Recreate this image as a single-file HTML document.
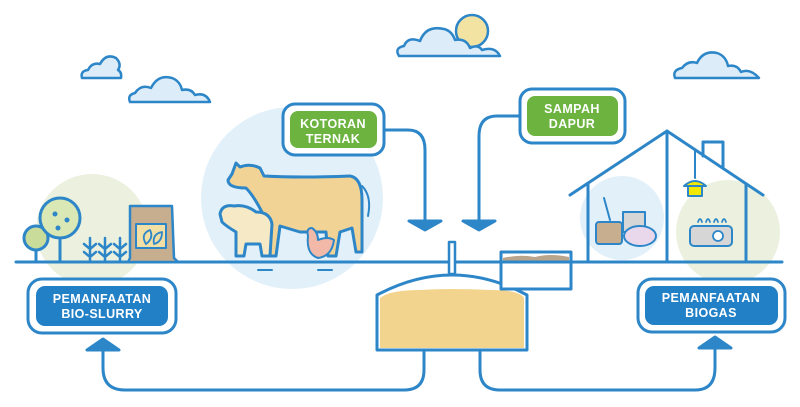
<!DOCTYPE html>
<html><head><meta charset="utf-8"><style>
html,body{margin:0;padding:0;background:#fff;}
svg{display:block}
text{font-family:"Liberation Sans",sans-serif;font-weight:bold;fill:#fff;font-size:12.5px;text-anchor:middle;letter-spacing:0.4px}
</style></head><body>
<svg width="800" height="407" viewBox="0 0 800 407" xmlns="http://www.w3.org/2000/svg">
<g fill="none" stroke="#2d86c8" stroke-width="3" stroke-linejoin="round" stroke-linecap="round">
<!-- backgrounds -->
<circle cx="92" cy="230" r="56" fill="#ebf1de" stroke="none"/>
<circle cx="292" cy="198" r="91" fill="#e2f0fa" stroke="none"/>
<circle cx="622" cy="218" r="42" fill="#e2f0fa" stroke="none"/>
<circle cx="728" cy="232" r="52" fill="#ebf1de" stroke="none"/>

<!-- clouds -->
<circle cx="472" cy="31" r="16" fill="#f3e3a2" stroke-width="2.5"/>
<path d="M399 56 Q394 48 404 46 Q408 36 420 41 Q426 25 444 29 Q452 31 455 40 Q466 38 470 48 Q478 44 482 50 Q495 46 500 56 Z" fill="#dcecf8" stroke-width="2.5"/>
<path d="M675 78 Q672 70 682 68 Q688 60 697 63 Q703 50 717 53 Q726 56 728 66 Q737 64 741 72 Q750 68 759 78 Z" fill="#dcecf8" stroke-width="2.5"/>
<path d="M82 78 Q80 71 88 70 Q92 62 100 64 Q106 53 116 58 Q122 64 118 70 Q122 72 121 78 Z" fill="#dcecf8" stroke-width="2.5"/>
<path d="M130 102 Q127 95 135 93 Q141 84 151 88 Q158 74 172 78 Q180 81 182 90 Q191 88 195 95 Q206 92 210 102 Z" fill="#dcecf8" stroke-width="2.5"/>

<!-- ground -->
<line x1="16" y1="262" x2="782" y2="262"/>

<!-- trees -->
<circle cx="36" cy="238" r="12" fill="#c9dc9a"/>
<path d="M60 262 V230" />
<circle cx="60" cy="218" r="20" fill="#d9e8b4"/>
<g fill="#2d86c8" stroke="none"><circle cx="55" cy="214" r="2.5"/><circle cx="67" cy="220" r="2.5"/><circle cx="58" cy="228" r="2.5"/></g>
<path d="M36 262 V250"/>
<g stroke-width="2.5"><path d="M90 262V238 M84 244l6 5 6-5 M84 252l6 5 6-5"/><path d="M105 262V238 M99 244l6 5 6-5 M99 252l6 5 6-5"/><path d="M120 262V238 M114 244l6 5 6-5 M114 252l6 5 6-5"/></g>
<!-- bag -->
<path d="M130 206 H172 L174 258 L178 262 H128 L130 258 Z" fill="#c6ae8f" stroke-width="2.5"/>
<rect x="136" y="224" width="30" height="24" fill="#f2dfa6" stroke-width="2"/>
<path d="M146 244 q-6-10 4-14 q4 8-4 14 M154 244 q-2-10 8-12 q0 10-8 12" stroke-width="1.8"/>

<!-- animals -->
<path d="M232 174 L236 163 L240 167 Q250 163 260 168 L264 176 Q300 178 350 176 Q362 178 362 200 L362 252 L356 252 L352 228 L340 232 L336 256 L328 256 L326 232 L300 232 L280 226 L276 256 L268 256 L264 216 Q254 196 246 188 Q228 188 228 180 Z" fill="#f2d396"/>
<path d="M362 186 Q372 196 368 216" stroke-width="2"/>
<path d="M220 214 Q222 204 234 206 Q246 204 256 212 Q270 212 272 224 L270 256 L262 256 L260 244 L246 244 L244 256 L236 256 L236 232 Q226 226 222 222 Z" fill="#f6e9c6"/>
<path d="M308 236 Q306 228 312 228 Q318 232 318 240 Q328 236 334 240 Q332 256 318 258 Q306 254 308 236 Z" fill="#f3b9a8" stroke-width="2"/>
<path d="M258 270 H272 M318 270 H332" stroke-width="2"/>

<!-- KOTORAN TERNAK -->
<rect x="283" y="104" width="101" height="51" rx="12" fill="#fff"/>
<rect x="290" y="111" width="87" height="37" rx="8" fill="#6cb33f" stroke="none"/>
<path d="M384 130 H408 Q425 130 425 150 V222"/>
<path d="M409 221 H441 L425 230 Z" fill="#2d86c8"/>

<!-- SAMPAH DAPUR -->
<rect x="520" y="89" width="105" height="54" rx="12" fill="#fff"/>
<rect x="527" y="96" width="91" height="40" rx="8" fill="#6cb33f" stroke="none"/>
<path d="M520 116 H497 Q479 116 479 136 V222"/>
<path d="M463 221 H495 L479 230 Z" fill="#2d86c8"/>

<!-- digester -->
<rect x="449" y="242" width="6" height="32" fill="#fff" stroke-width="2.5"/>
<path d="M377 350 V295 Q452 255 527 295 V350 Z" fill="#fff"/>
<path d="M380 348 V298 Q390 290 420 290 Q450 288 490 290 Q520 290 524 298 V348 Z" fill="#f2d48e" stroke="none"/>
<rect x="501" y="252" width="70" height="37" fill="#fff"/>
<path d="M503 258 Q520 254 535 257 Q550 253 569 257 V262 H503 Z" fill="#b9a58c" stroke="none"/>
<line x1="501" y1="262" x2="571" y2="262"/>

<!-- bottom pipes -->
<path d="M424 350 V370 Q424 390 404 390 H125 Q103 390 103 368 V348"/>
<path d="M87 350 H119 L103 339 Z" fill="#2d86c8"/>
<path d="M480 350 V370 Q480 390 500 390 H695 Q715 390 715 368 V348"/>
<path d="M699 348 H731 L715 337 Z" fill="#2d86c8"/>

<!-- house -->
<path d="M570 195 L667 131 L763 195"/>
<path d="M588 184 V262 M667 131 V262 M746 184 V262"/>
<path d="M703 156 V142 H723 V168"/>
<!-- pots -->
<rect x="596" y="222" width="26" height="22" rx="3" fill="#c6ae8f" stroke-width="2"/>
<rect x="623" y="212" width="22" height="20" fill="#d6d6d6" stroke-width="2"/>
<ellipse cx="640" cy="236" rx="16" ry="10" fill="#e9d8ec" stroke-width="2"/>
<path d="M610 220 L604 198" stroke-width="2"/>
<!-- lamp -->
<path d="M695 150 V178" stroke-width="2"/>
<path d="M684 186 Q695 176 706 186 Z" fill="#f3e800" stroke-width="2"/>
<rect x="688" y="186" width="14" height="10" fill="#f3e800" stroke-width="2"/>
<!-- stove -->
<rect x="690" y="226" width="42" height="20" rx="4" fill="#d6d6d6" stroke-width="2"/>
<circle cx="718" cy="236" r="5" fill="#fff" stroke-width="1.8"/>
<path d="M698 222 q2-6 4 0 M706 222 q2-6 4 0 M714 222 q2-6 4 0 M722 222 q2-6 4 0" stroke-width="1.8"/>

<!-- bottom boxes -->
<rect x="28" y="279" width="148" height="54" rx="14" fill="#fff"/>
<rect x="36" y="286" width="132" height="40" rx="9" fill="#2280c6" stroke="none"/>
<rect x="638" y="279" width="147" height="53" rx="14" fill="#fff"/>
<rect x="645" y="286" width="133" height="39" rx="9" fill="#2280c6" stroke="none"/>
</g>
<text x="333" y="128">KOTORAN</text>
<text x="333" y="143">TERNAK</text>
<text x="572" y="113">SAMPAH</text>
<text x="572" y="128">DAPUR</text>
<text x="102" y="303">PEMANFAATAN</text>
<text x="102" y="318">BIO-SLURRY</text>
<text x="711" y="302">PEMANFAATAN</text>
<text x="711" y="317">BIOGAS</text>
</svg>
</body></html>
